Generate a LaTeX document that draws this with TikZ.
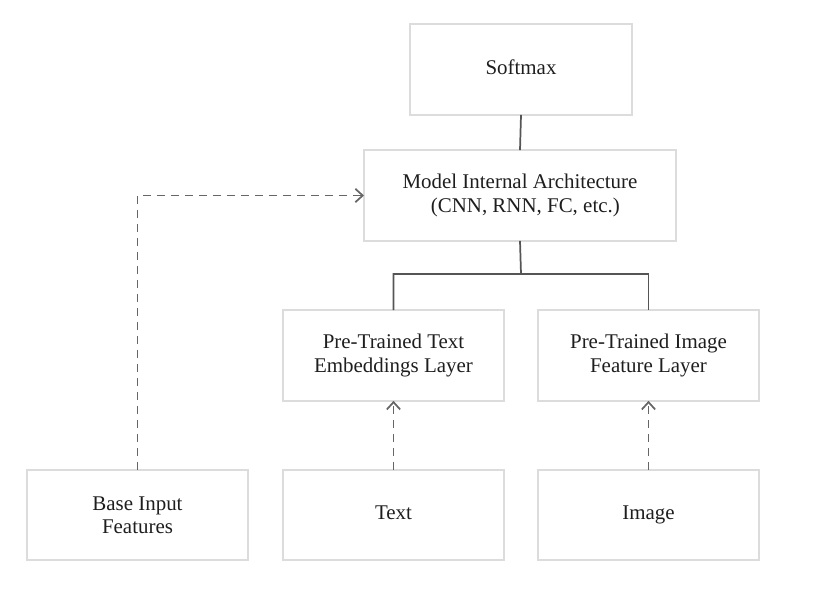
\documentclass[tikz,border=0pt]{standalone}
\usepackage{fontspec}
\setmainfont{Liberation Serif}
\usetikzlibrary{arrows.meta}

\definecolor{boxline}{HTML}{DCDCDC}
\definecolor{linkgray}{HTML}{555555}
\definecolor{dashgray}{HTML}{666666}
\definecolor{textgray}{HTML}{1E1E1E}

\begin{document}
\begin{tikzpicture}[
  x=0.75pt, y=-0.75pt,
  every node/.style={font=\fontsize{15.7}{17.6}\selectfont, text=textgray},
  layer/.style={draw=boxline, line width=1.4pt, align=center, inner sep=0pt,
    outer sep=0pt, minimum width=166pt, minimum height=68pt},
  link/.style={draw=linkgray, line width=1.3pt},
  feed/.style={draw=dashgray, line width=1.3pt, dash pattern=on 6pt off 4.5pt,
    -{Straight Barb[length=5.5pt, width=10pt]}}
]
\useasboundingbox (0,0) rectangle (834,594);

% ---- top of the stack ----
\node[layer] (softmax) at (521, 69.5) {\strut Softmax};
\node[layer, minimum width=234pt] (model) at (520, 195.5)
  {Model Internal Architecture\\\hspace*{8pt}(CNN, RNN, FC, etc.)};

% ---- pre-trained layers ----
\node[layer] (txtemb) at (393.5, 355.5) {Pre-Trained Text\\Embeddings Layer};
\node[layer] (imgfeat) at (648.5, 355.5) {Pre-Trained Image\\Feature Layer};

% ---- inputs ----
\node[layer] (base) at (137.5, 515) {Base Input\\Features};
\node[layer] (text) at (393.5, 515) {\strut Text};
\node[layer] (image) at (648.5, 515) {\strut Image};

% ---- connectors ----
\coordinate (fork) at (521, 274);
\draw[link] (softmax.south) -- (model.north);
\draw[link] (model.south) -- (fork) -| (txtemb.north);
\draw[link] (fork) -| (imgfeat.north);

\draw[feed] (text.north) -- (txtemb.south);
\draw[feed] (image.north) -- (imgfeat.south);
\draw[feed] (base.north) |- (model.west);

\end{tikzpicture}
\end{document}
